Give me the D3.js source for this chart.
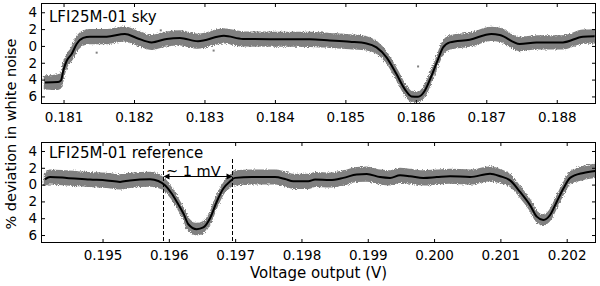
<!DOCTYPE html>
<html><head><meta charset="utf-8">
<script src="https://cdn.jsdelivr.net/npm/d3@7/dist/d3.min.js"></script>
<style>
body{margin:0;background:#fff;}
svg{display:block;font-family:"DejaVu Sans",sans-serif;}
</style></head>
<body><svg id="c" width="600" height="286"></svg>
<script>
// ---------- data ----------
const skyVolt = [0.180737,0.180921,0.180964,0.180996,0.181045,0.181115,0.181186,0.181280,0.181375,0.181612,0.181871,0.182037,0.182250,0.182463,0.182652,0.182907,0.183276,0.183546,0.183999,0.184496,0.184779,0.185063,0.185300,0.185442,0.185584,0.185725,0.185843,0.185938,0.186032,0.186127,0.186222,0.186316,0.186387,0.186482,0.186766,0.187073,0.187191,0.187474,0.187711,0.188088,0.188372,0.188538];
const skyDev  = [-4.34,-4.30,-4.10,-2.95,-1.76,-0.96,0.23,0.95,1.10,1.10,1.42,0.95,0.42,0.83,0.95,0.55,1.20,0.83,0.80,0.78,0.65,0.50,0.30,-0.17,-1.36,-3.35,-5.13,-6.00,-6.05,-5.33,-3.55,-1.56,-0.17,0.42,0.74,1.42,1.30,0.23,0.42,0.42,1.10,1.14];
const skySpread = [0.7,0.8,0.7,0.6,0.6,0.6,0.7,0.75,0.75,0.75,0.75,0.75,0.75,0.75,0.75,0.75,0.75,0.75,0.75,0.75,0.75,0.75,0.7,0.6,0.5,0.5,0.5,0.5,0.5,0.5,0.5,0.5,0.6,0.7,0.7,0.7,0.7,0.7,0.7,0.7,0.7,0.7];
const skyOutV = [0.181470,0.186032,0.183130,0.182380];
const skyOutD = [-0.8,-2.44,-0.55,1.85];

const refVolt = [0.194132,0.194208,0.194460,0.194811,0.195063,0.195264,0.195414,0.195716,0.195841,0.195942,0.196043,0.196124,0.196224,0.196294,0.196420,0.196520,0.196621,0.196722,0.196822,0.196923,0.196998,0.197250,0.197601,0.197752,0.197877,0.198104,0.198205,0.198431,0.198632,0.198834,0.198985,0.199185,0.199336,0.199487,0.199638,0.199838,0.200040,0.200241,0.200543,0.200844,0.200995,0.201146,0.201297,0.201447,0.201549,0.201648,0.201749,0.201850,0.201950,0.202051,0.202251,0.202428];
const refDev  = [0.63,0.90,0.80,0.60,0.50,0.32,0.50,0.63,0.43,-0.08,-1.06,-2.10,-3.50,-4.72,-5.30,-5.10,-4.00,-2.04,-0.47,0.39,0.80,0.90,0.90,0.67,0.39,0.39,0.60,0.55,0.80,1.20,1.25,0.90,0.80,1.10,1.00,0.80,0.90,1.00,0.90,1.29,1.00,0.50,-0.87,-2.44,-3.81,-4.21,-3.62,-2.04,-0.47,0.80,1.39,1.63];
const refSpread = [0.6,0.75,0.75,0.75,0.75,0.75,0.75,0.75,0.7,0.6,0.5,0.5,0.5,0.6,0.6,0.6,0.5,0.5,0.5,0.6,0.75,0.75,0.75,0.75,0.75,0.75,0.75,0.75,0.75,0.75,0.75,0.75,0.75,0.75,0.75,0.75,0.75,0.75,0.75,0.75,0.7,0.6,0.5,0.5,0.5,0.5,0.5,0.5,0.5,0.6,0.7,0.7];

const skyTicks = [0.181,0.182,0.183,0.184,0.185,0.186,0.187,0.188];
const refTicks = [0.195,0.196,0.197,0.198,0.199,0.200,0.201,0.202];
const yTickValues = [4,2,0,-2,-4,-6];
const yTickLabels = ["4","2","0","2","4","6"];
const markerVolt = [0.195917,0.196957];
const panelLabels = ["LFI25M-01 sky","LFI25M-01 reference"];
const annotText = "~ 1 mV";
const xLabel = "Voltage output (V)";
const yLabel = "% deviation in white noise";

// ---------- drawing ----------
const svg = d3.select("#c");
const L = 41, R = 596;
const defs = svg.append("defs");
const filt = defs.append("filter").attr("id","rough").attr("x","-5%").attr("y","-20%").attr("width","110%").attr("height","140%");
filt.append("feTurbulence").attr("type","fractalNoise").attr("baseFrequency","0.9").attr("numOctaves",2).attr("seed",3).attr("result","t");
filt.append("feDisplacementMap").attr("in","SourceGraphic").attr("in2","t").attr("scale",4).attr("xChannelSelector","R").attr("yChannelSelector","G");

function panel(idx, top, bottom, xDom, yDom, volt, dev, spread, ticks, outV, outD, labelY, titleY) {
  const x = d3.scaleLinear().domain(xDom).range([L, R]);
  const y = d3.scaleLinear().domain(yDom).range([bottom, top]);
  const g = svg.append("g");
  defs.append("clipPath").attr("id","clip"+idx).append("rect")
    .attr("x",L).attr("y",top).attr("width",R-L).attr("height",bottom-top);
  const pts = volt.map((v,i)=>({v, d:dev[i], s:spread[i]}));
  const area = d3.area().x(p=>x(p.v)).y0(p=>y(p.d-p.s)).y1(p=>y(p.d+p.s)).curve(d3.curveMonotoneX);
  const line = d3.line().x(p=>x(p.v)).y(p=>y(p.d)).curve(d3.curveMonotoneX);
  const pg = g.append("g").attr("clip-path","url(#clip"+idx+")");
  pg.append("path").datum(pts).attr("d",area).attr("fill","#808080").attr("stroke","#808080").attr("stroke-width",2.5).attr("filter","url(#rough)");
  pg.selectAll("rect.o").data(outV).enter().append("rect").attr("class","o")
    .attr("x",(v)=>x(v)-1).attr("y",(v,i)=>y(outD[i])-1).attr("width",2).attr("height",2).attr("fill","#808080");
  pg.append("path").datum(pts).attr("d",line).attr("fill","none").attr("stroke","#000").attr("stroke-width",2);

  // axes with inward ticks on all sides
  const fmt = d3.format(".3f");
  const ab = g.append("g").attr("transform",`translate(0,${bottom})`).call(d3.axisBottom(x).tickValues(ticks).tickSize(-4).tickFormat(fmt));
  ab.selectAll("text").attr("y", labelY).attr("dy",null).attr("font-size",13.5).attr("font-family","DejaVu Sans").attr("fill","#000");
  g.append("g").attr("transform",`translate(0,${top})`).call(d3.axisTop(x).tickValues(ticks).tickSize(-4).tickFormat(""));
  const al = g.append("g").attr("transform",`translate(${L},0)`).call(d3.axisLeft(y).tickValues(yTickValues).tickSize(-4).tickFormat((d,i)=>yTickLabels[i]));
  al.selectAll("text").attr("x",-4).attr("font-size",13.5).attr("font-family","DejaVu Sans").attr("fill","#000");
  g.append("g").attr("transform",`translate(${R},0)`).call(d3.axisRight(y).tickValues(yTickValues).tickSize(-4).tickFormat(""));
  g.selectAll(".domain").remove();
  g.selectAll(".tick line").attr("stroke","#000");
  g.append("rect").attr("x",L+0.5).attr("y",top+0.5).attr("width",R-L-1).attr("height",bottom-top-1)
    .attr("fill","none").attr("stroke","#000").attr("stroke-width",1);
  g.append("text").attr("x",49).attr("y",titleY).attr("font-size",15).text(panelLabels[idx]);
  return {x,y};
}

const p1 = panel(0, 3, 104, [0.18068,0.188557], [-6.9,5.1], skyVolt, skyDev, skySpread, skyTicks, skyOutV, skyOutD, 18, 21.5);
const p2 = panel(1, 142, 243, [0.194072,0.202442], [-6.95,5.07], refVolt, refDev, refSpread, refTicks, [], [], 17, 158);

// dashed markers and annotation
const mx = markerVolt.map(v=>Math.round(p2.x(v))+0.5);
mx.forEach(xx=>{
  svg.append("line").attr("x1",xx).attr("x2",xx).attr("y1",159).attr("y2",243)
    .attr("stroke","#000").attr("stroke-width",1).attr("stroke-dasharray","4,2");
});
const ay = 176.5;
svg.append("line").attr("x1",mx[0]+4).attr("x2",mx[1]-4).attr("y1",ay).attr("y2",ay).attr("stroke","#000").attr("stroke-width",1);
svg.append("path").attr("d",`M${mx[0]},${ay}L${mx[0]+6},${ay-3}L${mx[0]+6},${ay+3}Z`).attr("fill","#000");
svg.append("path").attr("d",`M${mx[1]},${ay}L${mx[1]-6},${ay-3}L${mx[1]-6},${ay+3}Z`).attr("fill","#000");
svg.append("text").attr("x",166).attr("y",175.5).attr("font-size",14.5).text(annotText);

svg.append("text").attr("x",(L+R)/2).attr("y",278).attr("text-anchor","middle").attr("font-size",15).text(xLabel);
svg.append("text").attr("transform","translate(16,134) rotate(-90)").attr("text-anchor","middle").attr("font-size",14.5).text(yLabel);
</script></body></html>
